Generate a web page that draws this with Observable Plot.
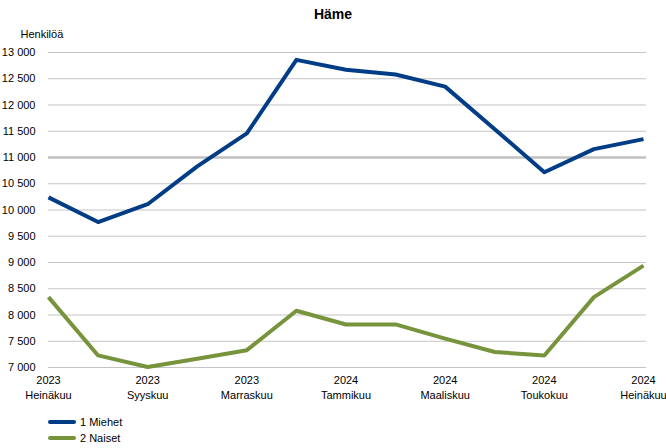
<!DOCTYPE html>
<html>
<head>
<meta charset="utf-8">
<script src="https://cdn.jsdelivr.net/npm/d3@7"></script>
<script src="https://cdn.jsdelivr.net/npm/@observablehq/plot@0.6"></script>
<style>
  html, body { margin: 0; padding: 0; background: #fff; }
  body { width: 666px; height: 448px; overflow: hidden; font-family: "Liberation Sans", Arial, sans-serif; }
  #title { height: 24px; line-height: 28px; text-align: center; font-weight: bold; font-size: 14px; color: #000; }
  #legend { position: relative; height: 40px; font-size: 11px; color: #000; }
  .item { position: absolute; left: 48px; display: flex; align-items: center; height: 16px; }
  .sw { width: 28px; height: 4px; border-radius: 2px; margin-right: 4px; }
</style>
</head>
<body>
<div id="title">Häme</div>
<div id="chart"></div>
<div id="legend"></div>
<script>
const months = ["Heinäkuu","Elokuu","Syyskuu","Lokakuu","Marraskuu","Joulukuu","Tammikuu","Helmikuu","Maaliskuu","Huhtikuu","Toukokuu","Kesäkuu","Heinäkuu"];
const years = ["2023","2023","2023","2023","2023","2023","2024","2024","2024","2024","2024","2024","2024"];
const miehet = [10240, 9770, 10110, 10830, 11460, 12860, 12670, 12580, 12350, 11540, 10720, 11160, 11350];
const naiset = [8340, 7230, 7010, 7165, 7330, 8080, 7820, 7820, 7550, 7295, 7230, 8340, 8940];
const seriesNames = ["1 Miehet", "2 Naiset"];
const seriesColors = ["#013d86", "#77933c"];
const yTicks = [7000, 7500, 8000, 8500, 9000, 9500, 10000, 10500, 11000, 11500, 12000, 12500, 13000];
const xTicks = [0, 2, 4, 6, 8, 10, 12];

const data = [];
months.forEach((m, i) => {
  data.push({i, series: seriesNames[0], value: miehet[i]});
  data.push({i, series: seriesNames[1], value: naiset[i]});
});

const fmt = d => d3.format(",")(d).replace(/,/g, " ");

const chart = Plot.plot({
  width: 666,
  height: 384,
  marginLeft: 48,
  marginRight: 23,
  marginTop: 28,
  marginBottom: 41,
  style: {fontFamily: "'Liberation Sans', Arial, sans-serif", fontSize: "11px", color: "#000", background: "#fff"},
  x: {type: "linear", domain: [0, 12]},
  y: {domain: [7000, 13000]},
  color: {domain: seriesNames, range: seriesColors},
  marks: [
    Plot.ruleY(yTicks.filter(d => d !== 11000), {stroke: "#c4c4c4", strokeWidth: 1.2, insetRight: -3}),
    Plot.ruleY([11000], {stroke: "#c0c0c0", strokeWidth: 2.4, insetRight: -3}),
    Plot.axisY({ticks: yTicks, tickSize: 0, tickPadding: 13, tickFormat: fmt, label: null, fontSize: 11}),
    Plot.text(["Henkilöä"], {frameAnchor: "top-left", dx: -28, dy: -22, textAnchor: "start", fontSize: 11}),
    Plot.axisX({ticks: xTicks, tickSize: 0, tickPadding: 6, label: null, fontSize: 11, lineHeight: 1.35,
      tickFormat: i => years[i] + "\n" + months[i]}),
    Plot.line(data, {x: "i", y: "value", z: "series", stroke: "series", strokeWidth: 4, strokeLinejoin: "round", strokeLinecap: "butt"})
  ]
});
document.getElementById("chart").appendChild(chart);

const legend = document.getElementById("legend");
seriesNames.forEach((n, k) => {
  const it = document.createElement("div");
  it.className = "item";
  it.style.top = (6 + k * 16) + "px";
  it.innerHTML = `<div class="sw" style="background:${seriesColors[k]}"></div><span>${n}</span>`;
  legend.appendChild(it);
});
</script>
</body>
</html>
